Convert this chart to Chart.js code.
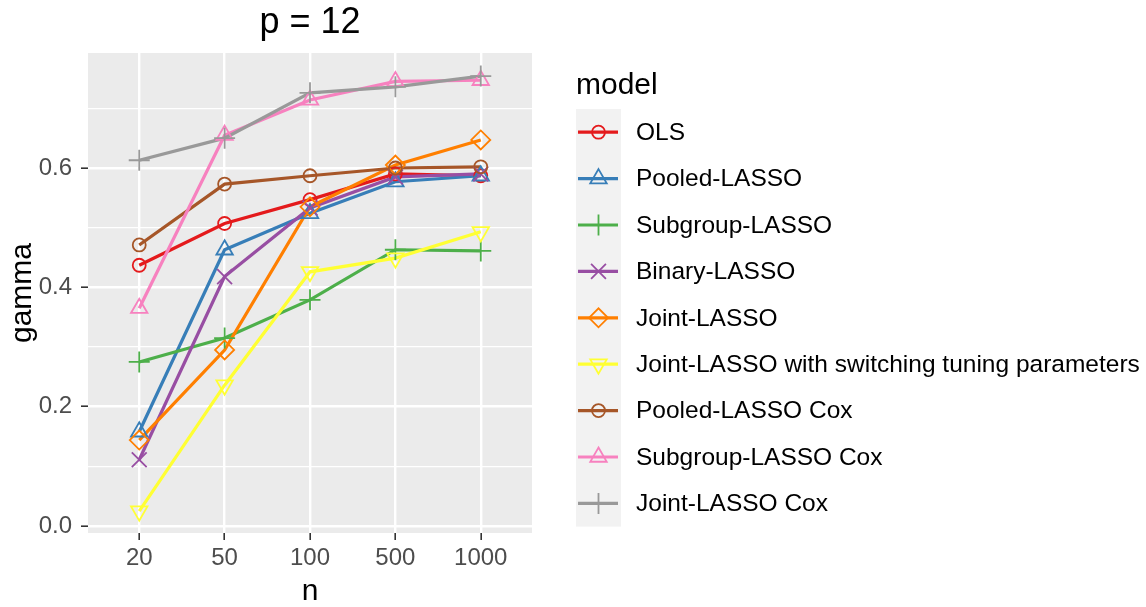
<!DOCTYPE html>
<html>
<head>
<meta charset="utf-8">
<title>p = 12</title>
<script src="https://cdn.jsdelivr.net/npm/chart.js@4.4.1/dist/chart.umd.min.js"></script>
<style>
  html, body { margin: 0; padding: 0; background: #ffffff; }
  #wrap { width: 1146px; height: 607px; }
</style>
</head>
<body>
<div id="wrap"><canvas id="c" width="1146" height="607"></canvas></div>
<script>
// ---- data ----
const categories = ['20', '50', '100', '500', '1000'];
const yMajorTicks = [0, 0.2, 0.4, 0.6];
const yMinorTicks = [0.1, 0.3, 0.5, 0.7];

const modelNames = [
  'OLS',
  'Pooled-LASSO',
  'Subgroup-LASSO',
  'Binary-LASSO',
  'Joint-LASSO',
  'Joint-LASSO with switching tuning parameters',
  'Pooled-LASSO Cox',
  'Subgroup-LASSO Cox',
  'Joint-LASSO Cox'
];

const olsGamma            = [0.437, 0.507, 0.547, 0.590, 0.587];
const pooledLassoGamma    = [0.158, 0.463, 0.524, 0.577, 0.587];
const subgroupLassoGamma  = [0.275, 0.315, 0.379, 0.463, 0.461];
const binaryLassoGamma    = [0.111, 0.418, 0.533, 0.585, 0.590];
const jointLassoGamma     = [0.144, 0.295, 0.535, 0.605, 0.647];
const jointSwitchGamma    = [0.025, 0.236, 0.426, 0.449, 0.493];
const pooledCoxGamma      = [0.471, 0.573, 0.587, 0.600, 0.602];
const subgroupCoxGamma    = [0.365, 0.655, 0.714, 0.745, 0.747];
const jointCoxGamma       = [0.613, 0.650, 0.726, 0.736, 0.754];

const seriesValues = [
  olsGamma, pooledLassoGamma, subgroupLassoGamma, binaryLassoGamma,
  jointLassoGamma, jointSwitchGamma, pooledCoxGamma, subgroupCoxGamma, jointCoxGamma
];

// ---- styling (ColorBrewer Set1 + hollow shapes) ----
const seriesColors = ['#E41A1C', '#377EB8', '#4DAF4A', '#984EA3', '#FF7F00',
                      '#FFFF33', '#A65628', '#F781BF', '#999999'];
const seriesShapes = [
  { style: 'circle',   rotation: 0,   radius: 6.5 },
  { style: 'triangle', rotation: 0,   radius: 9.5 },
  { style: 'cross',    rotation: 0,   radius: 10.5 },
  { style: 'crossRot', rotation: 0,   radius: 10.5 },
  { style: 'rectRot',  rotation: 0,   radius: 9.5 },
  { style: 'triangle', rotation: 180, radius: 9.5 },
  { style: 'circle',   rotation: 0,   radius: 6.5 },
  { style: 'triangle', rotation: 0,   radius: 9.5 },
  { style: 'cross',    rotation: 0,   radius: 10.5 }
];

const FONT = "'Liberation Sans', Arial, sans-serif";
const LINE_W = 3.2;
const POINT_W = 1.8;

const toPoints = vals => vals.map((v, j) => ({ x: j, y: v }));
const isMajor = v => yMajorTicks.some(t => Math.abs(t - v) < 1e-9);

// Lines first, then all markers on top of them.
const lineSets = seriesValues.map((vals, i) => ({
  label: modelNames[i],
  data: toPoints(vals),
  borderColor: seriesColors[i],
  borderWidth: LINE_W,
  pointRadius: 0,
  pointHoverRadius: 0,
  fill: false,
  tension: 0,
  order: 200 - i
}));
const pointSets = seriesValues.map((vals, i) => ({
  label: modelNames[i] + ' (points)',
  data: toPoints(vals),
  showLine: false,
  pointStyle: seriesShapes[i].style,
  pointRotation: seriesShapes[i].rotation,
  pointRadius: seriesShapes[i].radius,
  pointHoverRadius: seriesShapes[i].radius,
  pointBorderColor: seriesColors[i],
  pointBackgroundColor: 'rgba(0,0,0,0)',
  pointBorderWidth: POINT_W,
  order: 100 - i
}));

// Grey panel behind the grid
const panelBackground = {
  id: 'panelBackground',
  beforeDraw(chart) {
    const { ctx, chartArea: a } = chart;
    ctx.save();
    ctx.fillStyle = '#ffffff';
    ctx.fillRect(0, 0, chart.width, chart.height);
    ctx.fillStyle = '#EBEBEB';
    ctx.fillRect(a.left, a.top, a.right - a.left, a.bottom - a.top);
    ctx.restore();
  }
};

// Legend with line-and-marker keys on grey key tiles
const modelLegend = {
  id: 'modelLegend',
  afterDraw(chart) {
    const ctx = chart.ctx;
    const keyLeft = 576, keyWidth = 45, firstTop = 109, step = 46.4;
    const textX = 636;
    ctx.save();
    ctx.fillStyle = '#000000';
    ctx.font = '30px ' + FONT;
    ctx.textAlign = 'left';
    ctx.textBaseline = 'middle';
    ctx.fillText('model', keyLeft, 86);

    ctx.fillStyle = '#F2F2F2';
    ctx.fillRect(keyLeft, firstTop, keyWidth, step * modelNames.length);

    modelNames.forEach((name, i) => {
      const cy = firstTop + step * (i + 0.5);
      const cx = keyLeft + keyWidth / 2;
      ctx.strokeStyle = seriesColors[i];
      ctx.lineWidth = LINE_W;
      ctx.beginPath();
      ctx.moveTo(keyLeft + 2, cy);
      ctx.lineTo(keyLeft + keyWidth - 3, cy);
      ctx.stroke();
      ctx.strokeStyle = seriesColors[i];
      ctx.fillStyle = 'rgba(0,0,0,0)';
      ctx.lineWidth = POINT_W;
      Chart.helpers.drawPoint(ctx, {
        pointStyle: seriesShapes[i].style,
        rotation: seriesShapes[i].rotation,
        radius: seriesShapes[i].radius,
        borderWidth: POINT_W
      }, cx, cy);
      ctx.fillStyle = '#000000';
      ctx.font = '24.5px ' + FONT;
      ctx.fillText(name, textX, cy + 1);
    });
    ctx.restore();
  }
};

new Chart(document.getElementById('c'), {
  type: 'line',
  data: { datasets: [...lineSets, ...pointSets] },
  plugins: [panelBackground, modelLegend],
  options: {
    responsive: false,
    devicePixelRatio: 1,
    animation: false,
    events: [],
    layout: { padding: { left: 0, right: 614, top: 0, bottom: 0 } },
    plugins: {
      legend: { display: false },
      tooltip: { enabled: false },
      title: {
        display: true,
        text: 'p = 12',
        fullSize: false,
        color: '#000000',
        font: { family: FONT, size: 36, weight: 'normal', lineHeight: 1 },
        padding: { top: 5, bottom: 12 }
      }
    },
    scales: {
      x: {
        type: 'linear',
        min: -0.6,
        max: 4.6,
        afterBuildTicks: s => { s.ticks = categories.map((_, i) => ({ value: i })); },
        afterFit: s => { s.height = 74; },
        ticks: {
          callback: v => categories[v],
          autoSkip: false,
          maxRotation: 0,
          color: '#4D4D4D',
          font: { family: FONT, size: 24 },
          padding: 4
        },
        grid: { color: '#ffffff', lineWidth: 2.4, tickLength: 7, tickColor: '#333333', tickWidth: 1.6 },
        border: { display: false },
        title: {
          display: true, text: 'n', color: '#000000',
          font: { family: FONT, size: 30, lineHeight: 1 },
          padding: { top: 0, bottom: 0 }
        }
      },
      y: {
        type: 'linear',
        min: -0.0117,
        max: 0.7927,
        afterBuildTicks: s => {
          s.ticks = [...yMajorTicks, ...yMinorTicks].sort((a, b) => a - b).map(v => ({ value: v }));
        },
        afterFit: s => { s.width = 88; },
        ticks: {
          callback: v => (isMajor(v) ? v.toFixed(1) : ''),
          color: '#4D4D4D',
          font: { family: FONT, size: 24 },
          padding: 9
        },
        grid: {
          color: '#ffffff',
          lineWidth: c => (isMajor(c.tick.value) ? 2.4 : 1.2),
          tickLength: 7,
          tickColor: c => (isMajor(c.tick.value) ? '#333333' : 'rgba(0,0,0,0)'),
          tickWidth: 1.6
        },
        border: { display: false },
        title: {
          display: true, text: 'gamma', color: '#000000',
          font: { family: FONT, size: 30, lineHeight: 1 },
          padding: { top: 8, bottom: 0 }
        }
      }
    }
  }
});
</script>
</body>
</html>
